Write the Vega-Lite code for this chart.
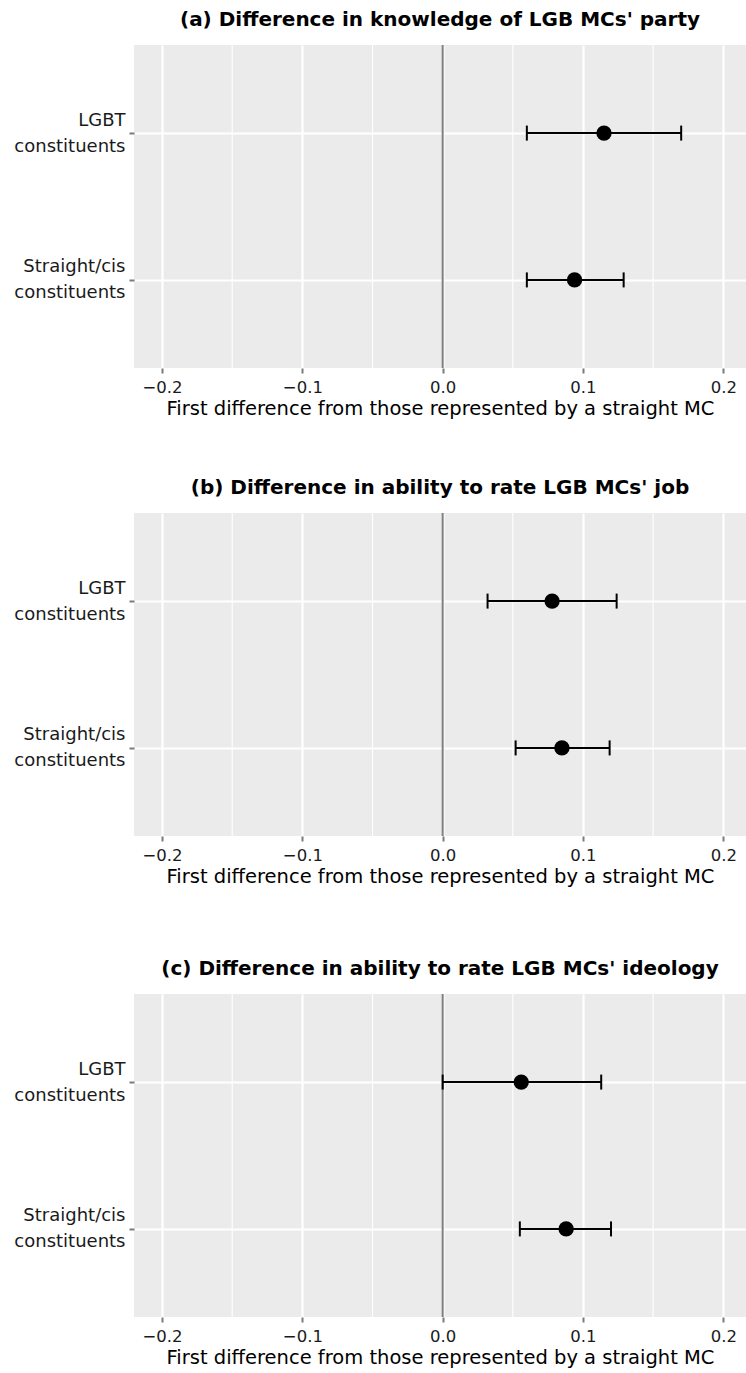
{
  "$schema": "https://vega.github.io/schema/vega-lite/v6.json",
  "background": "white",
  "padding": {"left": 13, "top": 10, "right": 0, "bottom": 5},
  "spacing": 73,
  "config": {
    "font": "DejaVu Sans",
    "view": {"fill": "#EBEBEB", "stroke": null},
    "axis": {
      "domain": false,
      "gridColor": "white",
      "gridWidth": 2.2,
      "tickColor": "#7a7a7a",
      "tickSize": 5,
      "tickWidth": 2,
      "labelColor": "#1a1a1a",
      "titleColor": "black",
      "labelFont": "DejaVu Sans",
      "titleFont": "DejaVu Sans"
    },
    "title": {"font": "DejaVu Sans", "fontSize": 20, "fontWeight": "bold", "color": "black", "frame": "group", "anchor": "middle", "offset": 14}
  },
  "datasets": {
    "est": [
      {"panel": "a", "group": "LGBT constituents", "est": 0.115, "lo": 0.060, "hi": 0.170},
      {"panel": "a", "group": "Straight/cis constituents", "est": 0.094, "lo": 0.060, "hi": 0.129},
      {"panel": "b", "group": "LGBT constituents", "est": 0.078, "lo": 0.032, "hi": 0.124},
      {"panel": "b", "group": "Straight/cis constituents", "est": 0.085, "lo": 0.052, "hi": 0.119},
      {"panel": "c", "group": "LGBT constituents", "est": 0.056, "lo": 0.000, "hi": 0.113},
      {"panel": "c", "group": "Straight/cis constituents", "est": 0.088, "lo": 0.055, "hi": 0.120}
    ],
    "minor": [{"v": -0.15}, {"v": -0.05}, {"v": 0.05}, {"v": 0.15}],
    "zero": [{"x0": 0}]
  },
  "vconcat": [
    {
      "spacing": 60,
      "vconcat": [
        {
          "title": "(a) Difference in knowledge of LGB MCs' party",
          "width": 612,
          "height": 323,
          "layer": [
            {
              "data": {"name": "minor"},
              "mark": {"type": "rule", "color": "white", "strokeWidth": 1.1},
              "encoding": {
                "x": {"field": "v", "type": "quantitative",
                  "scale": {"domain": [-0.22, 0.2162], "nice": false, "zero": false},
                  "axis": {"values": [-0.2, -0.1, 0, 0.1, 0.2], "labelExpr": "replace(format(datum.value, '.1f'), '-', '\u2212')", "labelFontSize": 16.5, "labelPadding": 6, "title": "First difference from those represented by a straight MC", "titleFontSize": 19.5, "titleFontWeight": "normal", "titlePadding": 4}}
              }
            },
            {
              "data": {"name": "zero"},
              "mark": {"type": "rule", "color": "#808080", "strokeWidth": 2},
              "encoding": {"x": {"field": "x0", "type": "quantitative"}}
            },
            {
              "data": {"name": "est"},
              "transform": [{"filter": "datum.panel == 'a'"}],
              "encoding": {
                "y": {"field": "group", "type": "nominal", "sort": ["LGBT constituents", "Straight/cis constituents"],
                  "scale": {"type": "point", "padding": 0.6},
                  "axis": {"title": null, "grid": true, "labelExpr": "split(datum.label, ' ')", "labelFontSize": 18, "labelLineHeight": 26, "labelOffset": -13, "labelPadding": 4, "labelAlign": "right"}}
              },
              "layer": [
                {"mark": {"type": "rule", "color": "black", "strokeWidth": 2}, "encoding": {"x": {"field": "lo", "type": "quantitative"}, "x2": {"field": "hi"}}},
                {"mark": {"type": "tick", "color": "black", "thickness": 2, "size": 15, "opacity": 1}, "encoding": {"x": {"field": "lo", "type": "quantitative"}}},
                {"mark": {"type": "tick", "color": "black", "thickness": 2, "size": 15, "opacity": 1}, "encoding": {"x": {"field": "hi", "type": "quantitative"}}},
                {"mark": {"type": "point", "filled": true, "color": "black", "size": 236, "opacity": 1}, "encoding": {"x": {"field": "est", "type": "quantitative"}}}
              ]
            }
          ]
        },
        {
          "title": "(b) Difference in ability to rate LGB MCs' job",
          "width": 612,
          "height": 323,
          "layer": [
            {
              "data": {"name": "minor"},
              "mark": {"type": "rule", "color": "white", "strokeWidth": 1.1},
              "encoding": {
                "x": {"field": "v", "type": "quantitative",
                  "scale": {"domain": [-0.22, 0.2162], "nice": false, "zero": false},
                  "axis": {"values": [-0.2, -0.1, 0, 0.1, 0.2], "labelExpr": "replace(format(datum.value, '.1f'), '-', '\u2212')", "labelFontSize": 16.5, "labelPadding": 6, "title": "First difference from those represented by a straight MC", "titleFontSize": 19.5, "titleFontWeight": "normal", "titlePadding": 4}}
              }
            },
            {
              "data": {"name": "zero"},
              "mark": {"type": "rule", "color": "#808080", "strokeWidth": 2},
              "encoding": {"x": {"field": "x0", "type": "quantitative"}}
            },
            {
              "data": {"name": "est"},
              "transform": [{"filter": "datum.panel == 'b'"}],
              "encoding": {
                "y": {"field": "group", "type": "nominal", "sort": ["LGBT constituents", "Straight/cis constituents"],
                  "scale": {"type": "point", "padding": 0.6},
                  "axis": {"title": null, "grid": true, "labelExpr": "split(datum.label, ' ')", "labelFontSize": 18, "labelLineHeight": 26, "labelOffset": -13, "labelPadding": 4, "labelAlign": "right"}}
              },
              "layer": [
                {"mark": {"type": "rule", "color": "black", "strokeWidth": 2}, "encoding": {"x": {"field": "lo", "type": "quantitative"}, "x2": {"field": "hi"}}},
                {"mark": {"type": "tick", "color": "black", "thickness": 2, "size": 15, "opacity": 1}, "encoding": {"x": {"field": "lo", "type": "quantitative"}}},
                {"mark": {"type": "tick", "color": "black", "thickness": 2, "size": 15, "opacity": 1}, "encoding": {"x": {"field": "hi", "type": "quantitative"}}},
                {"mark": {"type": "point", "filled": true, "color": "black", "size": 236, "opacity": 1}, "encoding": {"x": {"field": "est", "type": "quantitative"}}}
              ]
            }
          ]
        }
      ]
    },
    {
      "title": "(c) Difference in ability to rate LGB MCs' ideology",
      "width": 612,
      "height": 323,
      "layer": [
        {
          "data": {"name": "minor"},
          "mark": {"type": "rule", "color": "white", "strokeWidth": 1.1},
          "encoding": {
            "x": {"field": "v", "type": "quantitative",
              "scale": {"domain": [-0.22, 0.2162], "nice": false, "zero": false},
              "axis": {"values": [-0.2, -0.1, 0, 0.1, 0.2], "labelExpr": "replace(format(datum.value, '.1f'), '-', '\u2212')", "labelFontSize": 16.5, "labelPadding": 6, "title": "First difference from those represented by a straight MC", "titleFontSize": 19.5, "titleFontWeight": "normal", "titlePadding": 4}}
          }
        },
        {
          "data": {"name": "zero"},
          "mark": {"type": "rule", "color": "#808080", "strokeWidth": 2},
          "encoding": {"x": {"field": "x0", "type": "quantitative"}}
        },
        {
          "data": {"name": "est"},
          "transform": [{"filter": "datum.panel == 'c'"}],
          "encoding": {
            "y": {"field": "group", "type": "nominal", "sort": ["LGBT constituents", "Straight/cis constituents"],
              "scale": {"type": "point", "padding": 0.6},
              "axis": {"title": null, "grid": true, "labelExpr": "split(datum.label, ' ')", "labelFontSize": 18, "labelLineHeight": 26, "labelOffset": -13, "labelPadding": 4, "labelAlign": "right"}}
          },
          "layer": [
            {"mark": {"type": "rule", "color": "black", "strokeWidth": 2}, "encoding": {"x": {"field": "lo", "type": "quantitative"}, "x2": {"field": "hi"}}},
            {"mark": {"type": "tick", "color": "black", "thickness": 2, "size": 15, "opacity": 1}, "encoding": {"x": {"field": "lo", "type": "quantitative"}}},
            {"mark": {"type": "tick", "color": "black", "thickness": 2, "size": 15, "opacity": 1}, "encoding": {"x": {"field": "hi", "type": "quantitative"}}},
            {"mark": {"type": "point", "filled": true, "color": "black", "size": 236, "opacity": 1}, "encoding": {"x": {"field": "est", "type": "quantitative"}}}
          ]
        }
      ]
    }
  ]
}
